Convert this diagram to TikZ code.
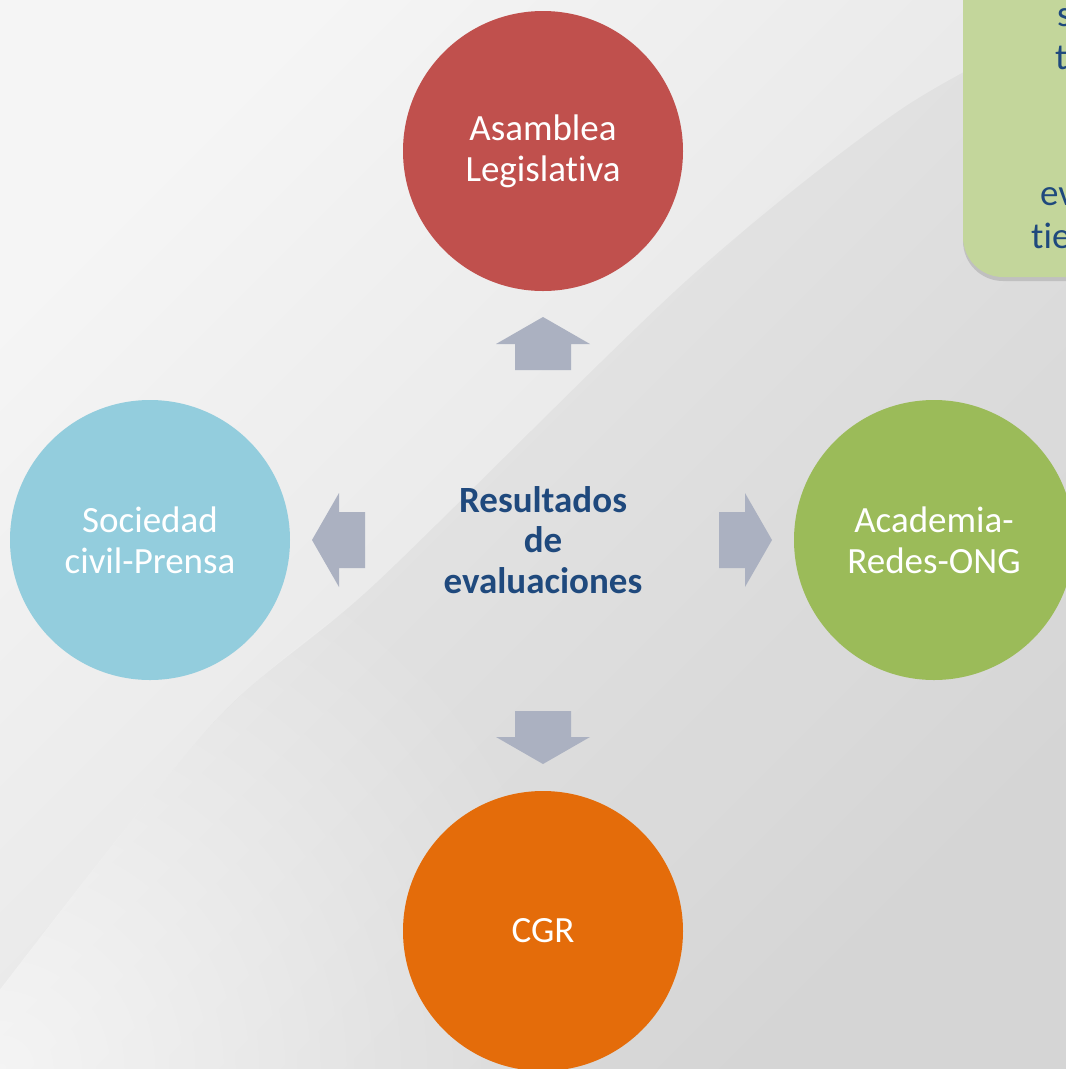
\documentclass[tikz,border=0pt]{standalone}
\usepackage{fontspec}
\setmainfont{Carlito}[Ligatures=NoCommon]
\usetikzlibrary{shadows, fadings}
\definecolor{rojo}{HTML}{C0504D}
\definecolor{celeste}{HTML}{93CDDD}
\definecolor{verde}{HTML}{9BBB59}
\definecolor{naranja}{HTML}{E46C0A}
\definecolor{azul}{HTML}{1F497D}
\definecolor{gristono}{HTML}{ABB1C1}
\definecolor{verdeclaro}{HTML}{C3D69B}
\definecolor{fondoA}{HTML}{F5F5F5}
\definecolor{fondoB}{HTML}{DDDDDD}
\tikzfading[name=mancha, inner color=transparent!0, outer color=transparent!100]
\tikzset{
circulo/.style={circle, minimum size=280pt, inner sep=0pt, text=white, align=center,
  font=\fontsize{37}{41}\selectfont},
notatexto/.style={anchor=base west, inner sep=0pt, text=azul, font=\fontsize{37}{41}\selectfont},
flecha/.pic={
  \fill[gristono] (0,-28) -- (26,-28) -- (26,-47) -- (53,0) -- (26,47) -- (26,28) -- (0,28) -- cycle;
  }
}
\begin{document}
\begin{tikzpicture}[x=1pt, y=-1pt]
  \useasboundingbox (0,0) rectangle (1066,1069);
  \clip (0,0) rectangle (1066,1069);
  % fondo
  \shade[top color=fondoA, bottom color=fondoB, shading angle=45] (0,0) rectangle (1066,1069);
  \fill[black, opacity=.035] plot[smooth] coordinates {(0,990) (213,723) (376,583) (686,281) (900,110) (1066,20)}
    -- (1066,1069) -- (0,1069) -- cycle;
  \fill[white, opacity=.65, path fading=mancha]
    plot[smooth] coordinates {(0,990) (213,723) (376,583) (500,469)} -- (600,469) -- (600,1669)
    -- (-600,1669) -- (-600,469) -- (-600,990) -- cycle;
  % nota
  \fill[verdeclaro, rounded corners=40pt, drop shadow={opacity=.3, shadow xshift=0pt, shadow yshift=-4pt}]
    (963,-60) rectangle (1120,277);
  \node[notatexto] (n1) at (1057,26) {s};
  \node[notatexto] (n2) at (1055,69) {t};
  \node[notatexto] (n3) at (1040,205) {ev};
  \node[notatexto] (n4) at (1031,248) {tie};
  % circulos
  \node[circulo, fill=rojo] (legis) at (543,151) {Asamblea\\Legislativa};
  \node[circulo, fill=celeste] (soc) at (150,540) {Sociedad\\civil-Prensa};
  \node[circulo, fill=verde] (acad) at (934,540) {Academia-\\Redes-ONG};
  \node[circulo, fill=naranja] (cgr) at (543,931) {CGR};
  \node[text=azul, align=center, font=\bfseries\fontsize{37}{40.5}\selectfont] (res) at (543,540)
    {Resultados\\de\\evaluaciones};
  % flechas
  \pic at (719,540) {flecha};
  \pic[rotate=180] at (365,540) {flecha};
  \pic[rotate=90] at (543,370) {flecha};
  \pic[rotate=-90] at (543,711) {flecha};
\end{tikzpicture}
\end{document}
